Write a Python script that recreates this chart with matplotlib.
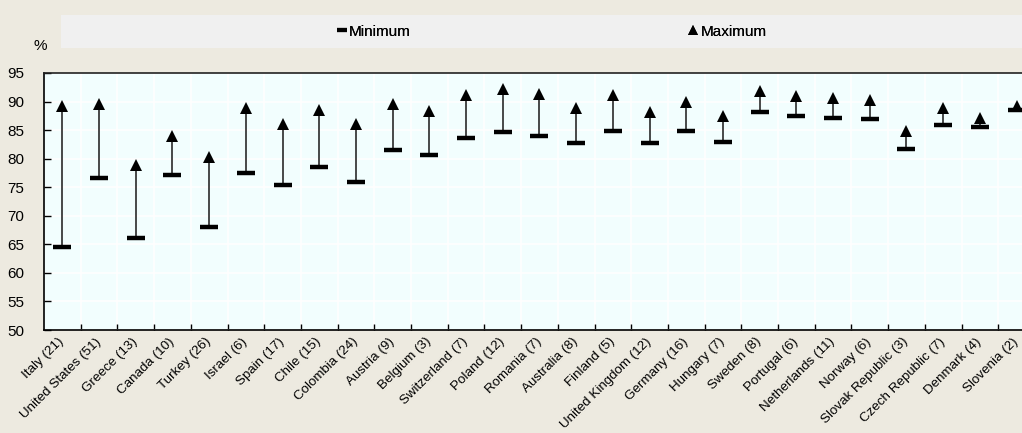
import matplotlib
matplotlib.use("Agg")
import matplotlib.pyplot as plt
from matplotlib.lines import Line2D
from matplotlib.patches import Rectangle
from matplotlib.ticker import FixedLocator

plt.rcParams['font.family'] = ['Liberation Sans', 'DejaVu Sans']

countries = ["Italy (21)", "United States (51)", "Greece (13)", "Canada (10)", "Turkey (26)",
             "Israel (6)", "Spain (17)", "Chile (15)", "Colombia (24)", "Austria (9)",
             "Belgium (3)", "Switzerland (7)", "Poland (12)", "Romania (7)", "Australia (8)",
             "Finland (5)", "United Kingdom (12)", "Germany (16)", "Hungary (7)", "Sweden (8)",
             "Portugal (6)", "Netherlands (11)", "Norway (6)", "Slovak Republic (3)",
             "Czech Republic (7)", "Denmark (4)", "Slovenia (2)"]
minimum = [64.5, 76.7, 66.1, 77.1, 68.0, 77.5, 75.4, 78.6, 76.0, 81.5,
           80.7, 83.6, 84.7, 84.0, 82.7, 84.8, 82.7, 84.8, 83.0, 88.1,
           87.4, 87.1, 86.9, 81.7, 85.9, 85.6, 88.5]
maximum = [89.2, 89.6, 78.9, 83.9, 80.3, 88.8, 86.0, 88.6, 86.0, 89.5,
           88.4, 91.2, 92.2, 91.3, 88.9, 91.1, 88.1, 89.9, 87.4, 91.9,
           91.0, 90.7, 90.2, 84.8, 88.9, 87.2, 89.3]
yticks = [50, 55, 60, 65, 70, 75, 80, 85, 90, 95]

W, H = 1022, 433
fig = plt.figure(figsize=(W / 100, H / 100), dpi=100)
fig.patch.set_facecolor('#EDEAE0')

n = len(countries)
ax = fig.add_axes([44 / W, 103 / H, 990.9 / W, 257 / H])
ax.set_facecolor('#F2FEFE')
x = list(range(n))

ax.vlines(x, minimum, maximum, color='#3a3a3a', lw=1.3, zorder=3)
ax.plot(x, minimum, ls='none', marker='_', ms=12.5, mew=3.2, color='black', zorder=4)
ax.plot(x, maximum, ls='none', marker='^', ms=9, color='black', mew=0, zorder=5)

ax.set_xlim(-0.5, n - 0.5)
ax.set_ylim(50, 95)
ax.set_yticks(yticks)
ax.set_xticks(x)
ax.set_xticklabels(countries, rotation=45, ha='right', va='center', rotation_mode='anchor')
ax.xaxis.set_minor_locator(FixedLocator([i + 0.5 for i in range(n)]))
ax.tick_params(axis='x', which='major', length=0, pad=7, labelsize=9.6)
ax.tick_params(axis='x', which='minor', length=4, direction='in', width=1)
ax.tick_params(axis='y', which='major', length=5, direction='in', width=1, pad=14, labelsize=11)
ax.grid(True, axis='y', which='major', color='white', lw=1.2, zorder=0)
ax.grid(True, axis='x', which='minor', color='white', lw=1.2, zorder=0)
ax.set_axisbelow(True)
for s in ax.spines.values():
    s.set_color('black')
    s.set_linewidth(1.2)
ax.spines['top'].set_color('#222222')

fig.text(40 / W, 1 - 46 / H, '%', fontsize=11, ha='center', va='center')

# Legend band
fig.patches.append(Rectangle((61 / W, 1 - 48 / H), (W - 61) / W, 33 / H,
                             transform=fig.transFigure, facecolor='#F0F0F0',
                             edgecolor='none', zorder=0))
h_min = Line2D([], [], ls='none', marker='_', ms=7, mew=3, color='black')
h_max = Line2D([], [], ls='none', marker='^', ms=7, mew=0, color='black')
for handle, label, xc in [(h_min, 'Minimum', 374), (h_max, 'Maximum', 728)]:
    leg = fig.legend([handle], [label], loc='center', bbox_to_anchor=(xc / W, 1 - 31.5 / H),
                     frameon=False, fontsize=11, handlelength=0.6, handletextpad=0.2,
                     borderpad=0, borderaxespad=0)
    fig.add_artist(leg)

fig.savefig('out.png', dpi=100, facecolor=fig.get_facecolor())
